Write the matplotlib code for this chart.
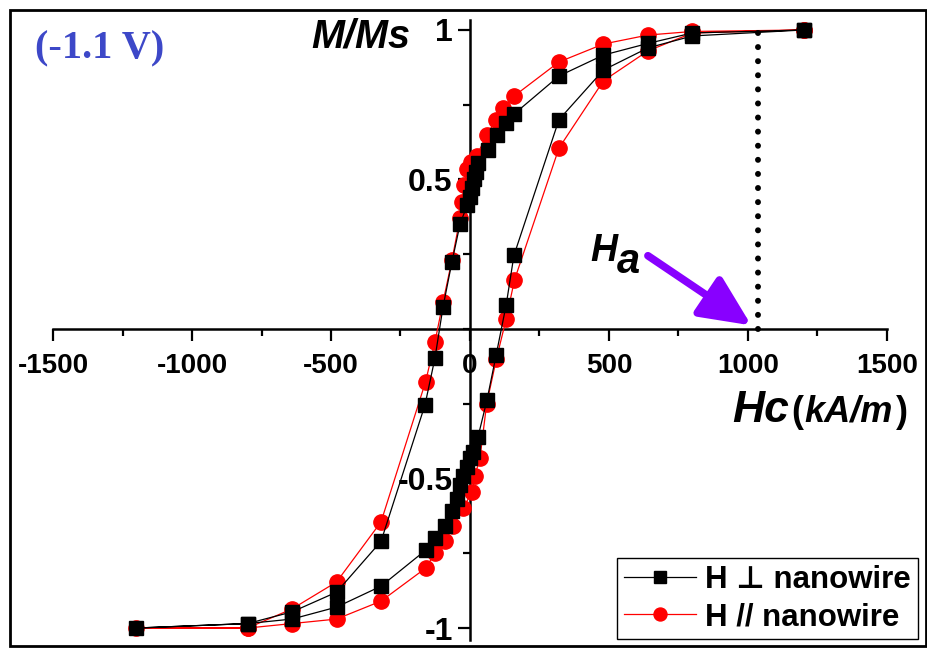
import matplotlib
matplotlib.use("Agg")
import matplotlib.pyplot as plt
from matplotlib.patches import Rectangle
from matplotlib.ticker import MultipleLocator

plt.rcParams['font.family'] = ['Liberation Sans', 'DejaVu Sans']
plt.rcParams['axes.unicode_minus'] = False

# H perpendicular to nanowire (black squares): descending branch then ascending branch
h_perp_down = [1200, 800, 640, 480, 320, 160, 130, 96, 65, 30, 22, 15, 8, 0, -10,
               -36, -65, -97, -126, -162, -320, -480, -640, -800, -1200]
m_perp_down = [1.0, 0.99, 0.955, 0.916, 0.846, 0.72, 0.69, 0.65, 0.60, 0.555, 0.525,
               0.50, 0.47, 0.44, 0.415, 0.35, 0.224, 0.074, -0.097, -0.254, -0.71,
               -0.88, -0.946, -0.985, -1.0]
h_perp_up = [-800, -640, -480, -320, -160, -126, -90, -65, -47, -36, -25, -11, 0, 11,
             29, 61, 94, 130, 158, 320, 480, 640, 800, 1200]
m_perp_up = [-0.985, -0.97, -0.93, -0.86, -0.74, -0.70, -0.66, -0.61, -0.57, -0.52,
             -0.49, -0.46, -0.43, -0.41, -0.36, -0.238, -0.087, 0.08, 0.246, 0.70,
             0.866, 0.94, 0.98, 1.0]

# H parallel to nanowire (red circles)
h_par_down = [1200, 800, 640, 480, 320, 160, 120, 95, 60, 25, 5, -11, -20, -29,
              -36, -65, -97, -126, -160, -320, -480, -640, -800, -1200]
m_par_down = [1.0, 0.995, 0.983, 0.953, 0.893, 0.78, 0.74, 0.70, 0.65, 0.58, 0.56,
              0.535, 0.48, 0.425, 0.37, 0.23, 0.09, -0.043, -0.177, -0.645, -0.846,
              -0.936, -1.0, -1.0]
h_par_up = [-800, -640, -480, -320, -160, -126, -90, -61, -25, 7, 18, 36, 60, 95,
            130, 160, 320, 480, 640, 800, 1200]
m_par_up = [-1.0, -0.985, -0.97, -0.91, -0.80, -0.75, -0.71, -0.66, -0.60, -0.545,
            -0.49, -0.43, -0.25, -0.10, 0.033, 0.164, 0.605, 0.83, 0.93, 0.99, 1.0]

ha_value = 1035  # anisotropy field marker (kA/m)

W, H = 928, 648


def px(x, y):
    return x / W, 1 - y / H


fig = plt.figure(figsize=(W / 100, H / 100), dpi=100)
ax = fig.add_axes([53 / W, 1 - 640 / H, 834 / W, (640 - 19.5) / H])

ax.plot(h_perp_down + h_perp_up, m_perp_down + m_perp_up, color='black', lw=0.9,
        marker='s', markersize=10, label='H \u22a5 nanowire', zorder=4)
ax.plot(h_par_down + h_par_up, m_par_down + m_par_up, color='red', lw=0.9,
        marker='o', markersize=11, label='H // nanowire', zorder=3)

ax.plot([ha_value, ha_value], [0, 1], color='black', lw=4.3,
        linestyle=(0, (0.01, 2.35)), dash_capstyle='round', zorder=5)

ax.annotate('', xy=(1012, 0.012), xytext=(640, 0.245),
            arrowprops=dict(arrowstyle='-|>,head_length=1.4,head_width=0.65',
                            color='#8800ff', lw=5.5, mutation_scale=22,
                            shrinkA=0, shrinkB=0), zorder=6)

ax.set_xlim(-1500, 1500)
ax.set_ylim(-1.04, 1.035)

for side in ['top', 'right']:
    ax.spines[side].set_visible(False)
ax.spines['left'].set_position(('data', 0))
ax.spines['bottom'].set_position(('data', 0))
for side in ['left', 'bottom']:
    ax.spines[side].set_linewidth(1.8)
    ax.spines[side].set_zorder(1)

ax.set_xticks([-1500, -1000, -500, 0, 500, 1000, 1500])
ax.xaxis.set_minor_locator(MultipleLocator(250))
ax.set_yticks([-1, -0.5, 0.5, 1])
ax.set_yticklabels(['-1', '-0.5', '0.5', '1'])
ax.yaxis.set_minor_locator(MultipleLocator(0.25))
ax.tick_params(which='major', direction='out', length=8.5, width=1.6)
ax.tick_params(which='minor', direction='out', length=5, width=1.6)
ax.tick_params(axis='x', which='major', pad=9, labelsize=20)
ax.tick_params(axis='y', which='major', pad=4, labelsize=23)
for lbl in ax.get_xticklabels() + ax.get_yticklabels():
    lbl.set_fontweight('bold')

ax.patch.set_visible(False)

# text labels
fig.text(*px(35, 58), '(-1.1 V)', family='Liberation Serif', fontweight='bold',
         fontsize=29, color='#3d48c8', va='baseline', ha='left')
fig.text(*px(361, 47), 'M/Ms', fontweight='bold', fontstyle='italic', fontsize=28.5,
         va='baseline', ha='center')
fig.text(*px(732, 422), 'Hc', fontweight='bold', fontstyle='italic', fontsize=32,
         va='baseline', ha='left')
fig.text(*px(791, 422), '(', fontweight='bold', fontsize=26, va='baseline', ha='left')
fig.text(*px(804, 422), 'kA/m', fontweight='bold', fontstyle='italic', fontsize=26,
         va='baseline', ha='left')
fig.text(*px(896, 422), ')', fontweight='bold', fontsize=26, va='baseline', ha='left')
fig.text(*px(590, 261), 'H', fontweight='bold', fontstyle='italic', fontsize=27,
         va='baseline', ha='left')
fig.text(*px(617, 273), 'a', fontweight='bold', fontstyle='italic', fontsize=30,
         va='baseline', ha='left')

leg = ax.legend(loc='lower right', bbox_to_anchor=px(918, 639),
                bbox_transform=fig.transFigure, borderaxespad=0,
                prop={'weight': 'bold', 'size': 22.5}, handlelength=2.3,
                handletextpad=0.3, borderpad=0.22, labelspacing=0.22,
                fancybox=False, framealpha=1, markerscale=0.85)
leg.get_frame().set_edgecolor('black')
leg.get_frame().set_linewidth(1.0)

fig.patches.append(Rectangle((10 / W, 2 / H), 916 / W, 636 / H,
                             transform=fig.transFigure, fill=False,
                             edgecolor='black', lw=2))

fig.savefig('out.png', dpi=100)
